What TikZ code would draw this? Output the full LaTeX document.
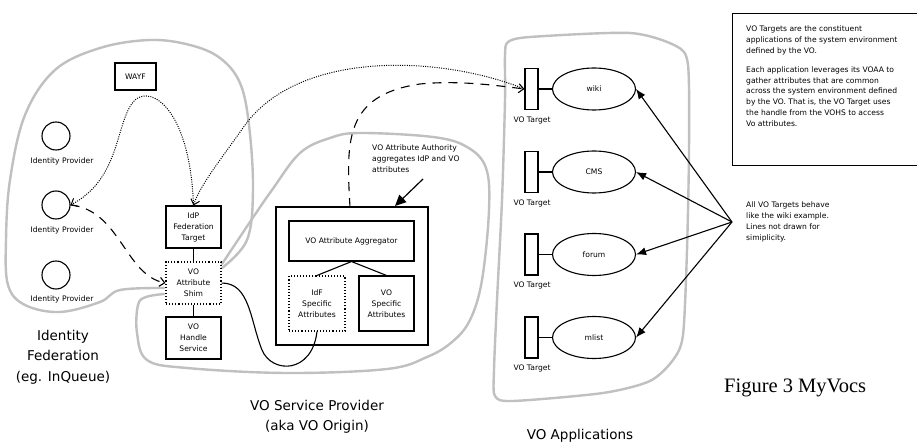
\documentclass[tikz,border=0pt]{standalone}
\usepackage{fontspec}
\setmainfont{DejaVu Sans}
\newfontfamily\figserif{Liberation Serif}
\usetikzlibrary{arrows.meta,shapes.geometric}
\definecolor{blobgray}{RGB}{192,192,192}
\begin{document}
\begin{tikzpicture}[x=1pt,y=-1pt,
  blob/.style={draw=blobgray, line width=2.4pt, line join=round, line cap=round},
  small/.style={font=\fontsize{7.6}{11}\selectfont},
  big/.style={font=\fontsize{13.5}{20.5}\selectfont, align=center},
  sbox/.style={draw, line width=1.1pt, minimum width=55pt, minimum height=42pt, inner sep=0pt, align=center, small},
  dbox/.style={sbox, dotted},
  idpc/.style={draw, circle, line width=1.1pt, minimum size=28pt, inner sep=0pt},
  vot/.style={draw, line width=1.1pt, minimum width=13pt, minimum height=41pt, inner sep=0pt},
  app/.style={draw, ellipse, line width=1.1pt, minimum width=83pt, minimum height=42pt, inner sep=0pt, small},
  openarrow/.style={-{Straight Barb[length=5pt,width=9pt]}},
  dashlink/.style={line width=1.1pt, dash pattern=on 9pt off 7pt},
  dotlink/.style={line width=1pt, dash pattern=on 1pt off 1.3pt},
  solidarrow/.style={line width=1.1pt, -{Latex[length=10pt,width=8pt]}}
]
\useasboundingbox (0,0) rectangle (917,443);
\fill[white] (0,0) rectangle (917,443);

% ---- grey blobs ----
\draw[blob] plot[smooth, tension=0.6] coordinates {(164,288) (120,290) (100,302) (60,312) (25,305) (8,285) (6,240) (10,180) (25,115) (55,70) (100,48) (150,40) (190,45) (220,58) (240,83) (249,125) (253,190) (247,240) (222,268)};
\draw[blob] plot[smooth, tension=0.6] coordinates {(222,264) (250,222) (272,190) (300,153) (330,138) (360,133) (433,137) (467,147) (486,168) (489,210) (482,280) (470,320) (452,342) (427,357) (387,369) (287,373) (187,368) (147,360) (137,333) (138,305) (146,297) (164,294)};
\draw[blob] plot[smooth cycle, tension=0.45] coordinates {(508,42) (530,37) (630,33) (676,46) (688,65) (689,150) (687,250) (683,335) (673,360) (650,381) (603,393) (513,401) (495,396) (494,370) (497,300) (502,200) (505,100) (505,55)};

% ---- Identity Federation ----
\node[draw, line width=1.1pt, minimum width=41pt, minimum height=27pt, inner sep=0pt, small] (wayf) at (135.5,76.5) {WAYF};
\node[idpc] (ip1) at (56,136) {};
\node[idpc] (ip2) at (56,205) {};
\node[idpc] (ip3) at (56,275) {};
\node[small] (ip1l) at (62,161) {Identity Provider};
\node[small] (ip2l) at (62,230) {Identity Provider};
\node[small] (ip3l) at (62,299) {Identity Provider};
\node[big] (idfed) at (63,357) {Identity\\Federation\\(eg. InQueue)};

% ---- VO Service Provider ----
\node[sbox] (idp) at (193.5,227) {IdP\\Federation\\Target};
\node[dbox] (shim) at (193.5,283) {VO\\Attribute\\Shim};
\node[sbox] (vohs) at (193.5,338) {VO\\Handle\\Service};
\draw[line width=1.1pt] (idp.south) -- (shim.north);
\draw[line width=1.1pt] (shim.south) -- (vohs.north);

\node[draw, line width=1.1pt, minimum width=152pt, minimum height=138pt, inner sep=0pt] (cont) at (352,276) {};
\node[sbox, minimum width=125pt, minimum height=40pt] (agg) at (351.5,241) {VO Attribute Aggregator};
\node[dbox, minimum width=56pt, minimum height=55pt] (idfs) at (317,303.5) {IdF\\Specific\\Attributes};
\node[sbox, minimum width=55pt, minimum height=55pt] (vos) at (386.5,303.5) {VO\\Specific\\Attributes};
\draw[line width=1.1pt] (agg.south) -- (idfs.north);
\draw[line width=1.1pt] (agg.south) -- (vos.north);

\node[small, anchor=north west, align=left, inner sep=0pt] (authtxt) at (372,145) {VO Attribute Authority\\aggregates IdP and VO\\attributes};
\coordinate (authsrc) at (423,179);
\coordinate (authdst) at (395,206);
\draw[line width=1.2pt, -{Triangle[length=11pt,width=10pt]}] (authsrc) -- (authdst);

\node[big] (vosp) at (317,417) {VO Service Provider\\(aka VO Origin)};

% ---- VO Applications ----
\foreach \n/\y/\lab in {t1/89/wiki, t2/172/CMS, t3/254.5/forum, t4/337.5/mlist}{
  \node[vot] (\n) at (531.5,\y) {};
  \node[app] (\n a) at (594,\y) {\lab};
  \draw[line width=1.1pt] (\n.east) -- (\n a.west);
  \node[small] (\n l) at (532,\y+31) {VO Target};
}
\node[big] (voapps) at (580,436) {VO Applications};

\coordinate (hub) at (732,222);
\foreach \n in {t1a,t2a,t3a,t4a}{
  \draw[solidarrow] (hub) -- (\n.east);
}
\node[small, anchor=north west, align=left, inner sep=0pt] (alltxt) at (746,201.5) {All VO Targets behave\\like the wiki example.\\Lines not drawn for\\simiplicity.};

\node[draw, line width=1.1pt, anchor=north west, minimum width=188pt, minimum height=152pt, inner sep=0pt] (note) at (732,13) {};
\node[small, anchor=north west, align=left, inner sep=0pt, font=\fontsize{7.6}{10.8}\selectfont] (notetxt) at (746,26) {VO Targets are the constituent\\applications of the system environment\\defined by the VO.\\[8pt]Each application leverages its VOAA to\\gather attributes that are common\\across the system environment defined\\by the VO. That is, the VO Target uses\\the handle from the VOHS to access\\Vo attributes.};

\node[anchor=west, font=\figserif\fontsize{20.5}{23}\selectfont, inner sep=0pt] (fig) at (724,388) {Figure 3 MyVocs};

% ---- connectors ----
\draw[dotlink, openarrow] (t1.west) .. controls (440,55) and (300,50) .. (245,125) .. controls (222,158) and (200,185) .. (idp.north);
\draw[dotlink, openarrow] (idp.north) .. controls (190,110) and (152,85) .. (135,100) .. controls (115,120) and (122,178) .. (ip2.east);
\draw[dashlink, openarrow] (ip2.east) .. controls (120,210) and (125,275) .. (shim.west);
\draw[dashlink, openarrow] (350,207) .. controls (346,140) and (345,95) .. (420,84) .. controls (460,80) and (500,86) .. (t1.west);
\draw[line width=1.1pt] (shim.east) .. controls (250,283) and (250,320) .. (262,350) .. controls (272,374) and (312,374) .. (idfs.south);
\end{tikzpicture}
\end{document}
